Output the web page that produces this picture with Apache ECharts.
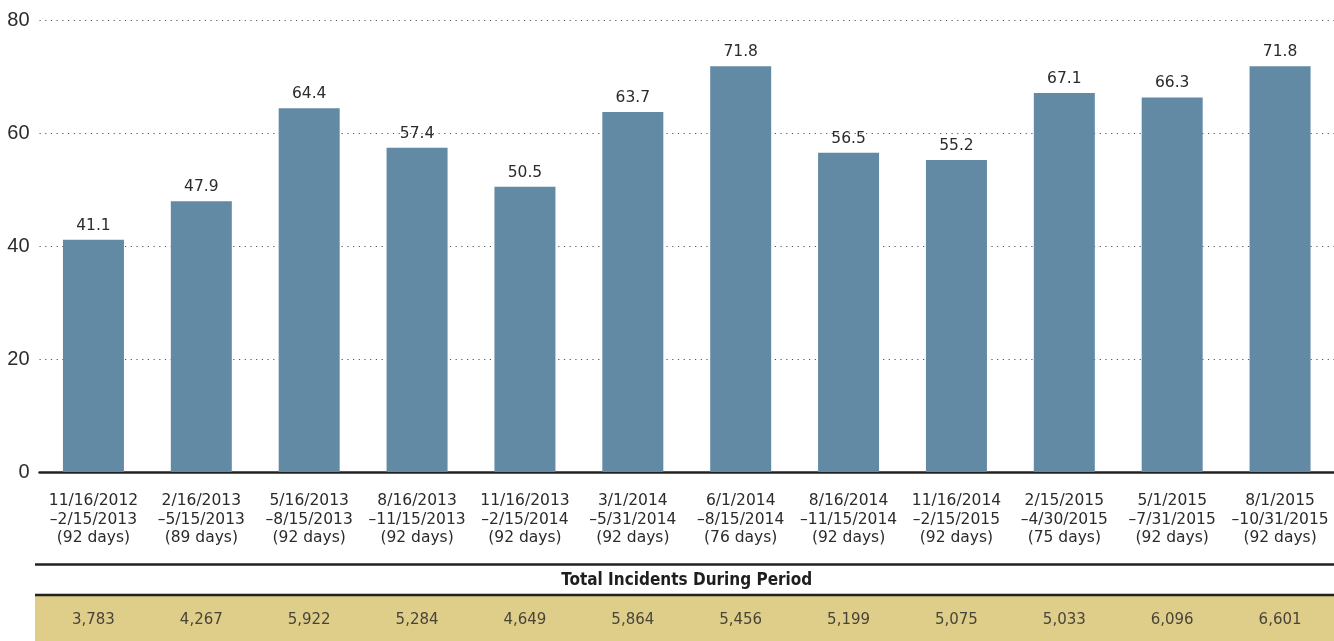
<!DOCTYPE html>
<html>
<head>
<meta charset="utf-8">
<script src="https://cdn.jsdelivr.net/npm/echarts@6/dist/echarts.min.js"></script>
<style>
  html, body { margin: 0; padding: 0; background: #fff; }
  #chart { width: 1334px; height: 641px; }
</style>
</head>
<body>
<div id="chart"></div>
<script>
// Reporting periods (three-line labels under each bar)
const periods = [
  '11/16/2012\n–2/15/2013\n(92 days)',
  '2/16/2013\n–5/15/2013\n(89 days)',
  '5/16/2013\n–8/15/2013\n(92 days)',
  '8/16/2013\n–11/15/2013\n(92 days)',
  '11/16/2013\n–2/15/2014\n(92 days)',
  '3/1/2014\n–5/31/2014\n(92 days)',
  '6/1/2014\n–8/15/2014\n(76 days)',
  '8/16/2014\n–11/15/2014\n(92 days)',
  '11/16/2014\n–2/15/2015\n(92 days)',
  '2/15/2015\n–4/30/2015\n(75 days)',
  '5/1/2015\n–7/31/2015\n(92 days)',
  '8/1/2015\n–10/31/2015\n(92 days)'
];

// Average incidents per day in each period
const perDay = [41.1, 47.9, 64.4, 57.4, 50.5, 63.7, 71.8, 56.5, 55.2, 67.1, 66.3, 71.8];

// Total incidents during each period
const totals = [3783, 4267, 5922, 5284, 4649, 5864, 5456, 5199, 5075, 5033, 6096, 6601];

// Y-axis ticks
const yTicks = [0, 20, 40, 60, 80];

const tableTitle = 'Total Incidents During Period';

const textColor = '#2b2b2b';
const barColor = '#628aa4';
const tanColor = '#dfcd8a';
const ruleColor = '#222';
const bodyFont = '"DejaVu Sans", Verdana, sans-serif';

const chart = echarts.init(document.getElementById('chart'), null, { renderer: 'canvas' });

const gridLeft = 39.5;

chart.setOption({
  animation: false,
  backgroundColor: '#fff',
  grid: [
    { left: gridLeft, right: 0, top: 20, height: 452, containLabel: false },
    { left: gridLeft, right: 0, top: 599, height: 42, containLabel: false }
  ],
  xAxis: [
    {
      gridIndex: 0,
      type: 'category',
      data: periods,
      axisLine: { show: true, lineStyle: { color: ruleColor, width: 2.5 } },
      axisTick: { show: false },
      axisLabel: {
        color: textColor,
        fontFamily: bodyFont,
        fontSize: 15.5,
        lineHeight: 18.5,
        margin: 20,
        interval: 0
      }
    },
    {
      gridIndex: 1,
      type: 'category',
      data: periods,
      show: false
    }
  ],
  yAxis: [
    {
      gridIndex: 0,
      type: 'value',
      min: yTicks[0],
      max: yTicks[yTicks.length - 1],
      interval: 20,
      axisLine: { show: false },
      axisTick: { show: false },
      axisLabel: {
        color: textColor,
        fontFamily: 'Liberation Sans, Arial, sans-serif',
        fontSize: 20,
        margin: 10
      },
      splitLine: {
        show: true,
        lineStyle: { color: '#555', width: 1.2, type: [1.2, 4.5] }
      }
    },
    {
      gridIndex: 1,
      type: 'value',
      min: -1,
      max: 1,
      show: false
    }
  ],
  series: [
    {
      type: 'bar',
      xAxisIndex: 0,
      yAxisIndex: 0,
      data: perDay,
      barWidth: 61,
      itemStyle: { color: barColor },
      z: 3,
      label: {
        show: true,
        position: 'top',
        distance: 6,
        color: textColor,
        fontFamily: bodyFont,
        fontSize: 15.5,
        formatter: p => p.value.toFixed(1)
      }
    },
    {
      type: 'scatter',
      xAxisIndex: 1,
      yAxisIndex: 1,
      symbolSize: 0,
      data: totals.map(() => 0),
      label: {
        show: true,
        position: 'inside',
        color: '#222',
        fontFamily: bodyFont,
        fontSize: 15,
        formatter: p => totals[p.dataIndex].toLocaleString('en-US')
      },
      z: 5
    }
  ],
  graphic: [
    // tan band for the totals row
    { type: 'rect', left: 35, top: 596, shape: { width: 1299, height: 45 }, style: { fill: tanColor }, z: 0 },
    // rules above and below the table header
    { type: 'line', shape: { x1: 35, y1: 564.5, x2: 1334, y2: 564.5 }, style: { stroke: ruleColor, lineWidth: 2.5 }, z: 2 },
    { type: 'line', shape: { x1: 35, y1: 595, x2: 1334, y2: 595 }, style: { stroke: ruleColor, lineWidth: 2.5 }, z: 2 },
    {
      type: 'text',
      x: (gridLeft + 1334) / 2,
      y: 580.5,
      style: {
        text: tableTitle,
        fill: '#1e1e1e',
        font: 'bold 17px "DejaVu Sans Condensed", "Liberation Sans Narrow", sans-serif',
        textAlign: 'center',
        textVerticalAlign: 'middle'
      },
      z: 3
    }
  ]
});
</script>
</body>
</html>
